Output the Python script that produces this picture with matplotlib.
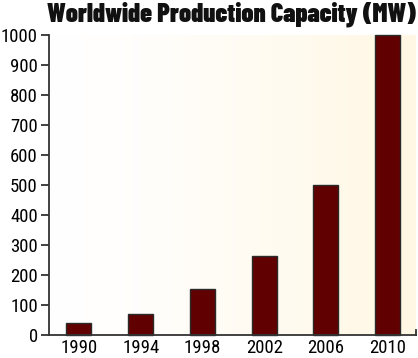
import numpy as np
import matplotlib
matplotlib.use('Agg')
import matplotlib.pyplot as plt

years = ['1990', '1994', '1998', '2002', '2006', '2010']
capacity = [40, 70, 155, 265, 500, 1000]
yticks = [0, 100, 200, 300, 400, 500, 600, 700, 800, 900, 1000]

plt.rcParams['font.family'] = ['Roboto Condensed', 'DejaVu Sans']

fig = plt.figure(figsize=(4.18, 3.58), dpi=100)
ax = fig.add_axes([49 / 418, 23 / 358, 367 / 418, 300 / 358])

x = np.arange(len(years))
xmin, xmax = -0.486, 5.46

# background gradient, white -> cream (a bit lighter in the middle)
grad = (np.linspace(0, 1, 256) ** 1.4)[None, :, None]
c0 = np.array([1.0, 1.0, 1.0])
c1 = np.array([255, 247, 227]) / 255.0
img = c0 + (c1 - c0) * grad
ax.imshow(img, extent=[xmin, xmax, 0, 1000], aspect='auto', zorder=0)

bars = ax.bar(x, capacity, width=0.405, color='#600000', edgecolor='#2a2a2a',
              linewidth=1.0, zorder=2)
for b in bars:
    b.set_clip_on(False)

ax.set_xlim(xmin, xmax)
ax.set_ylim(0, 1000)
ax.set_xticks(x)
ax.set_xticklabels(years)
ax.set_yticks(yticks)

ax.spines['top'].set_visible(False)
ax.spines['right'].set_bounds(0, 17)
for s in ['left', 'bottom', 'right']:
    ax.spines[s].set_color('#333333')
    ax.spines[s].set_linewidth(1.3)

ax.tick_params(axis='y', length=6, width=1.3, color='#333333', labelsize=13.5, pad=2)
ax.tick_params(axis='x', length=0, labelsize=13.5, pad=3)

fig.text(0.995, 0.96, 'Worldwide Production Capacity (MW)', ha='right', va='center',
         fontsize=18.8, fontweight=900, color='#111111',
         family=['Barlow Condensed', 'DejaVu Sans'])

fig.savefig('out.png', dpi=100)
